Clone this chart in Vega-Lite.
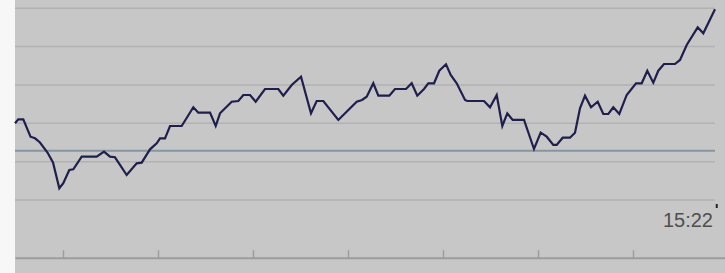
{
  "$schema": "https://vega.github.io/schema/vega-lite/v6.json",
  "width": 710,
  "height": 273,
  "autosize": {"type": "none"},
  "padding": {"left": 15, "top": 0, "right": 0, "bottom": 0},
  "background": "#f7f7f7",
  "config": {"view": {"stroke": null, "fill": "#c7c7c7"}},
  "datasets": {
    "price": [
      {"t": 0, "v": 30.01}, {"t": 1.04, "v": 31.05}, {"t": 2.62, "v": 31.05}, {"t": 4.89, "v": 26.51},
      {"t": 6.32, "v": 26.09}, {"t": 7.89, "v": 25.0}, {"t": 10.26, "v": 22.39}, {"t": 12.0, "v": 19.78},
      {"t": 13.99, "v": 13.05}, {"t": 15.25, "v": 14.36}, {"t": 17.15, "v": 17.83}, {"t": 18.41, "v": 18.01},
      {"t": 21.06, "v": 21.29}, {"t": 25.8, "v": 21.29}, {"t": 28.11, "v": 22.6}, {"t": 30.0, "v": 21.29},
      {"t": 31.58, "v": 21.14}, {"t": 35.27, "v": 16.52}, {"t": 38.43, "v": 19.57}, {"t": 40.01, "v": 19.73},
      {"t": 42.63, "v": 23.22}, {"t": 44.75, "v": 24.79}, {"t": 45.79, "v": 26.09}, {"t": 47.37, "v": 26.09},
      {"t": 48.95, "v": 29.3}, {"t": 52.64, "v": 29.3}, {"t": 56.31, "v": 34.18}, {"t": 57.88, "v": 32.77},
      {"t": 61.58, "v": 32.77}, {"t": 63.38, "v": 29.3}, {"t": 64.74, "v": 32.61}, {"t": 68.43, "v": 35.64},
      {"t": 70.52, "v": 35.82}, {"t": 72.1, "v": 37.39}, {"t": 74.21, "v": 37.39}, {"t": 76.01, "v": 35.64},
      {"t": 78.95, "v": 38.95}, {"t": 83.15, "v": 38.95}, {"t": 84.73, "v": 37.2}, {"t": 87.38, "v": 40.0},
      {"t": 90.32, "v": 42.16}, {"t": 93.47, "v": 32.61}, {"t": 95.27, "v": 35.82}, {"t": 97.36, "v": 35.82},
      {"t": 102.1, "v": 30.87}, {"t": 107.91, "v": 35.64}, {"t": 109.58, "v": 36.08}, {"t": 111.06, "v": 36.94},
      {"t": 113.15, "v": 40.44}, {"t": 114.73, "v": 37.2}, {"t": 118.2, "v": 37.2}, {"t": 120.0, "v": 38.95},
      {"t": 123.47, "v": 38.95}, {"t": 125.27, "v": 40.44}, {"t": 127.04, "v": 37.2}, {"t": 129.16, "v": 38.95},
      {"t": 130.52, "v": 40.44}, {"t": 132.32, "v": 40.44}, {"t": 133.99, "v": 43.72}, {"t": 136.11, "v": 45.39},
      {"t": 137.59, "v": 42.6}, {"t": 139.49, "v": 40.44}, {"t": 142.11, "v": 36.08}, {"t": 142.83, "v": 35.82},
      {"t": 148.11, "v": 35.82}, {"t": 150.0, "v": 34.18}, {"t": 152.12, "v": 37.39}, {"t": 153.89, "v": 29.3},
      {"t": 155.46, "v": 32.61}, {"t": 157.17, "v": 30.87}, {"t": 160.74, "v": 30.87}, {"t": 163.89, "v": 23.3},
      {"t": 166.01, "v": 27.55}, {"t": 167.91, "v": 26.51}, {"t": 169.99, "v": 24.35}, {"t": 171.06, "v": 24.35},
      {"t": 172.96, "v": 26.25}, {"t": 175.26, "v": 26.25}, {"t": 176.84, "v": 27.55}, {"t": 178.42, "v": 33.92},
      {"t": 180.0, "v": 37.2}, {"t": 181.9, "v": 34.18}, {"t": 184.01, "v": 35.64}, {"t": 185.78, "v": 32.43},
      {"t": 187.36, "v": 32.43}, {"t": 188.94, "v": 34.18}, {"t": 190.83, "v": 32.43}, {"t": 193.17, "v": 37.39},
      {"t": 196.11, "v": 40.44}, {"t": 197.91, "v": 40.44}, {"t": 199.67, "v": 43.72}, {"t": 201.57, "v": 40.6},
      {"t": 203.15, "v": 43.72}, {"t": 204.95, "v": 45.47}, {"t": 208.42, "v": 45.47}, {"t": 210.0, "v": 46.52},
      {"t": 212.12, "v": 50.43}, {"t": 215.59, "v": 55.04}, {"t": 217.36, "v": 53.48}, {"t": 221.05, "v": 59.74}
    ],
    "grid": [{"v": 10}, {"v": 20}, {"v": 30}, {"v": 40}, {"v": 50}, {"v": 60}],
    "ref": [{"v": 22.86}],
    "label": [{"t": 220.42, "v": 2.96, "txt": "15:22"}],
    "mark": [{"t": 221.6, "v": 8.96, "v2": 7.92}]
  },
  "layer": [
    {
      "data": {"name": "grid"},
      "mark": {"type": "rule", "color": "#b2b2b2", "strokeWidth": 1.5},
      "encoding": {
        "y": {"field": "v", "type": "quantitative", "scale": {"domain": [-9.04, 62.16], "nice": false, "zero": false}, "axis": null},
        "x": {"datum": 0, "type": "quantitative"},
        "x2": {"datum": 221.05}
      }
    },
    {
      "data": {"name": "ref"},
      "mark": {"type": "rule", "color": "#8596a2", "strokeWidth": 2},
      "encoding": {
        "y": {"field": "v", "type": "quantitative"},
        "x": {"datum": 0, "type": "quantitative"},
        "x2": {"datum": 221.05}
      }
    },
    {
      "data": {"name": "price"},
      "mark": {"type": "line", "color": "#1f1f4d", "strokeWidth": 2.2, "strokeJoin": "miter"},
      "encoding": {
        "x": {
          "field": "t", "type": "quantitative",
          "scale": {"domain": [0, 224.21], "nice": false, "zero": false},
          "axis": {
            "values": [15, 45, 75, 105, 135, 165, 195],
            "title": null, "labels": false, "grid": false,
            "offset": -15.3,
            "domainColor": "#9c9c9c", "domainWidth": 2,
            "tickColor": "#9c9c9c", "tickWidth": 1.5, "tickSize": -8
          }
        },
        "y": {"field": "v", "type": "quantitative"}
      }
    },
    {
      "data": {"name": "label"},
      "mark": {"type": "text", "align": "right", "baseline": "alphabetic", "fontSize": 20, "font": "Liberation Sans", "color": "#4f4f4f"},
      "encoding": {
        "x": {"field": "t", "type": "quantitative"},
        "y": {"field": "v", "type": "quantitative"},
        "text": {"field": "txt"}
      }
    },
    {
      "data": {"name": "mark"},
      "mark": {"type": "rule", "color": "#222222", "strokeWidth": 2},
      "encoding": {
        "x": {"field": "t", "type": "quantitative"},
        "y": {"field": "v", "type": "quantitative"},
        "y2": {"field": "v2"}
      }
    }
  ]
}
